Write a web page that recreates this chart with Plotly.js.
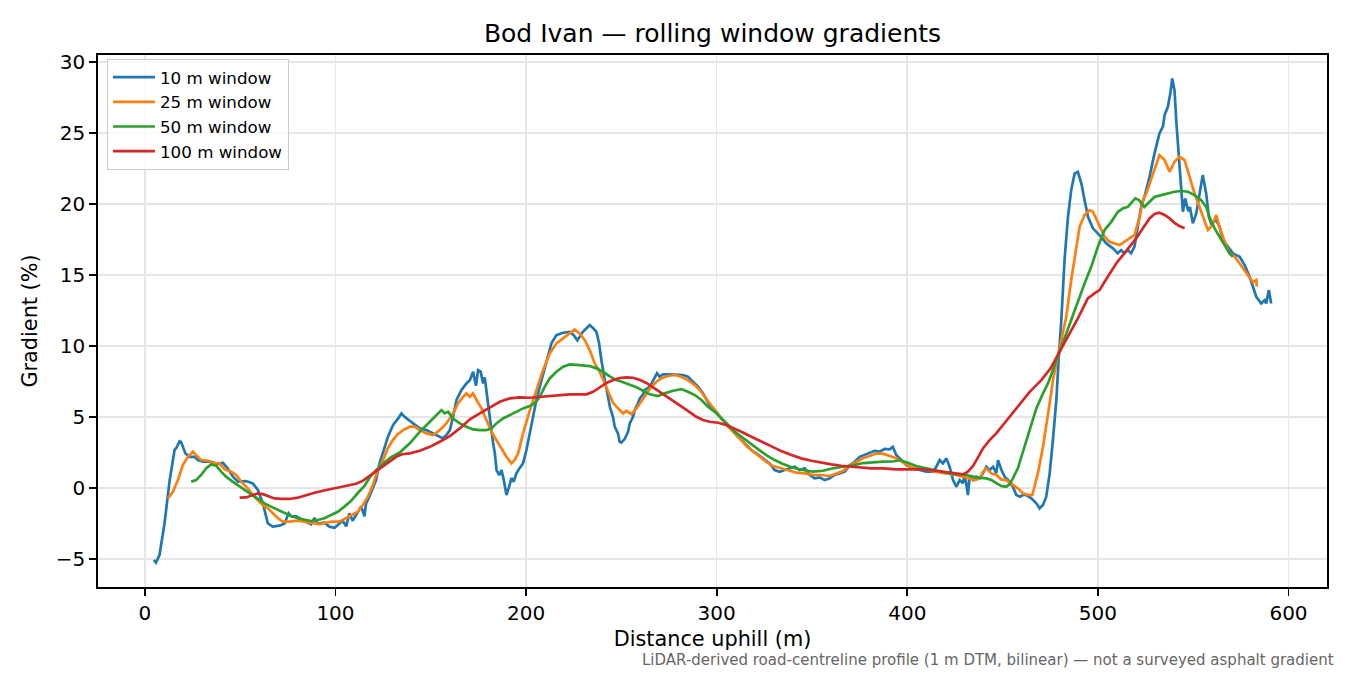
<!DOCTYPE html>
<html>
<head>
<meta charset="utf-8">
<script src="https://cdn.plot.ly/plotly-3.0.1.min.js"></script>
<style>html,body{margin:0;padding:0;background:#fff;}#chart{width:1350px;height:675px;}</style>
</head>
<body>
<div id="chart"></div>
<script>
// ---- data ----
const seriesNames = ["10 m window", "25 m window", "50 m window", "100 m window"];

const w10x = [4.7,5.8,7.7,10.3,13.0,15.6,16.4,18.2,19.0,21.2,23.4,26.0,27.8,30.4,34.8,38.3,40.9,43.5,46.2,48.8,53.1,56.6,59.3,61.9,64.5,67.1,70.6,73.3,75.4,76.8,79.4,82.0,84.6,87.2,89.0,90.6,94.2,96.8,99.5,101.2,103.8,105.6,107.3,109.0,111.7,113.5,115.2,116.0,117.8,119.6,121.3,123.1,124.1,125.7,126.8,127.5,129.4,130.5,132.9,134.6,136.4,139.0,141.6,144.2,147.7,151.2,153.8,156.4,158.2,160.0,161.7,163.5,166.1,168.7,170.5,172.2,173.7,174.8,176.2,177.4,178.3,179.1,180.0,180.9,181.8,182.7,183.6,184.5,185.9,187.1,188.3,189.7,191.1,192.3,193.5,194.9,196.6,198.4,200.2,202.8,205.4,208.1,210.7,213.3,215.9,219.4,222.9,225.0,226.9,228.1,229.8,231.7,233.4,235.2,236.9,238.3,239.5,241.3,243.0,244.0,245.6,246.5,248.2,249.1,250.0,251.7,253.5,254.4,256.1,257.0,258.7,259.6,261.4,262.2,264.9,266.6,268.7,270.1,271.8,275.3,278.8,282.3,284.9,287.6,290.2,292.8,294.6,297.2,299.8,302.4,305.1,307.7,310.3,312.9,315.6,318.2,320.8,324.3,327.8,330.4,333.0,335.7,338.3,340.9,343.5,346.2,348.8,351.4,354.0,356.7,359.3,361.9,364.5,367.2,369.8,372.4,375.0,377.6,380.2,382.9,385.5,388.1,390.7,392.4,394.2,396.8,399.5,403.0,406.5,410.0,413.4,415.2,417.0,418.7,420.5,422.2,424.0,425.7,427.5,429.2,430.1,431.8,432.7,434.5,436.2,438.0,439.7,441.5,443.2,445.0,446.7,447.6,449.4,451.1,452.9,455.4,457.2,459.0,460.7,462.4,465.1,467.7,469.4,471.2,472.9,474.7,476.4,478.2,479.6,480.8,482.5,484.3,486.0,487.8,489.5,491.3,493.0,494.8,497.4,500.0,501.7,504.4,507.9,510.4,512.2,513.9,515.7,517.4,519.2,520.9,522.7,524.4,527.1,529.7,532.3,534.1,535.0,536.7,538.0,539.0,540.2,541.1,542.3,543.4,544.6,545.8,547.4,548.3,549.8,551.6,553.3,555.0,556.8,558.2,559.4,562.1,563.8,565.6,568.2,570.8,574.4,577.0,579.6,581.3,583.1,585.7,587.4,588.3,589.7,590.9];
const w10y = [-5.07,-5.26,-4.7,-2.5,0.56,2.7,2.8,3.3,3.25,2.45,2.2,2.2,1.97,1.85,1.85,1.69,1.78,1.38,0.8,0.45,0.49,0.33,-0.14,-1.08,-2.49,-2.72,-2.65,-2.49,-1.78,-2.0,-2.0,-2.2,-2.37,-2.54,-2.1,-2.5,-2.44,-2.72,-2.8,-2.6,-2.3,-2.7,-1.78,-2.3,-1.67,-1.3,-2.0,-1.1,-0.6,0.0,0.56,1.74,2.2,2.9,3.38,3.6,4.2,4.5,4.9,5.26,5.0,4.74,4.44,4.2,4.08,3.85,3.62,3.5,3.73,4.08,5.02,6.2,6.9,7.37,7.6,8.19,7.2,8.3,8.2,7.37,7.8,6.9,6.2,5.26,4.08,3.15,2.45,1.27,0.9,1.27,0.56,-0.49,0.1,0.7,0.45,1.03,1.4,1.74,2.68,4.55,6.2,7.6,9.0,10.2,10.77,10.94,11.0,10.77,10.4,10.65,11.0,11.25,11.48,11.25,11.0,10.2,9.0,7.6,6.2,5.7,5.0,4.32,3.85,3.26,3.2,3.45,3.96,4.55,5.02,5.49,5.96,6.3,6.6,6.9,7.14,7.6,8.08,7.84,8.0,8.0,8.0,7.96,7.84,7.49,7.14,6.67,6.2,5.61,5.37,4.9,4.55,4.2,3.73,3.38,3.03,2.68,2.44,2.09,1.74,1.27,1.15,1.27,1.39,1.5,1.27,1.39,0.92,0.68,0.75,0.56,0.68,0.92,1.03,1.15,1.6,1.85,2.2,2.33,2.5,2.62,2.56,2.75,2.72,2.9,2.33,1.97,1.62,1.39,1.27,1.15,1.15,1.5,1.97,1.74,2.09,1.5,0.56,0.09,0.56,0.33,1.03,-0.49,0.8,0.56,0.8,0.68,1.03,1.5,1.27,1.5,1.03,1.97,1.27,0.8,0.56,0.09,-0.49,-0.61,-0.49,-0.49,-0.73,-1.08,-1.43,-1.2,-0.61,1.03,3.38,6.2,9.5,11.8,16.06,19.1,20.99,22.16,22.27,21.46,20.28,19.1,18.29,17.94,17.69,17.23,16.88,16.53,16.76,16.53,16.76,16.53,17.0,18.4,19.8,20.5,21.92,23.57,24.98,25.45,26.27,26.85,27.8,28.85,28.0,25.9,23.8,21.9,19.46,20.4,19.5,19.8,18.64,19.34,20.75,22.04,20.75,19.1,18.64,18.87,18.4,17.46,17.0,16.53,16.29,15.7,14.88,14.18,13.47,13.0,13.23,13.0,13.94,13.0];

const w25x = [12.1,14.7,17.3,19.9,22.6,25.2,26.9,29.5,33.0,36.5,39.1,41.8,45.3,47.9,50.5,54.0,56.6,59.3,61.9,64.5,67.1,69.8,72.4,75.9,80.3,83.7,88.1,91.6,95.1,98.6,102.1,105.6,109.1,111.7,114.3,117.0,119.6,122.2,124.8,127.4,130.1,132.3,135.5,139.0,141.6,144.2,147.7,151.2,154.7,158.2,161.7,164.3,167.0,168.7,170.5,172.2,174.0,176.6,179.2,181.8,184.4,187.1,189.7,192.3,194.0,195.8,198.4,202.0,205.4,208.9,212.4,215.9,219.4,222.9,225.5,228.1,230.8,233.4,236.0,238.6,242.2,245.6,249.1,250.9,252.6,255.2,257.9,260.5,263.1,265.7,268.4,271.0,274.5,278.0,281.5,284.9,288.5,291.1,293.7,296.3,299.0,301.6,304.2,306.8,309.5,312.1,315.6,319.0,322.6,326.1,329.5,333.9,338.3,341.8,346.2,350.5,354.9,359.3,362.8,366.2,369.8,373.3,376.7,380.2,383.7,387.2,390.7,394.2,398.6,402.1,406.5,410.8,414.3,417.8,421.3,425.7,429.2,432.7,435.3,438.0,439.7,441.5,444.1,446.7,449.3,451.9,455.4,458.0,460.7,463.3,465.6,466.8,468.5,471.2,473.8,475.5,476.4,479.8,483.4,486.0,488.6,490.4,493.0,495.6,497.4,499.1,500.9,503.5,506.1,508.7,511.4,514.0,516.6,519.2,521.9,523.6,525.4,528.0,530.6,532.3,535.0,537.6,540.2,542.8,545.5,548.1,550.7,553.3,556.0,557.7,560.0,562.1,563.8,566.5,569.1,571.7,574.4,577.0,579.6,581.3,583.1,583.4];
const w25y = [-0.73,-0.26,0.56,1.62,2.2,2.56,2.32,1.97,1.92,1.74,1.74,1.31,1.15,0.92,0.45,-0.02,-0.49,-0.84,-1.2,-1.43,-1.78,-2.13,-2.37,-2.37,-2.3,-2.37,-2.44,-2.54,-2.44,-2.37,-2.37,-2.13,-1.9,-1.67,-1.2,-0.61,0.21,1.27,1.9,2.79,3.38,3.75,4.08,4.32,4.32,4.08,3.85,3.73,4.08,4.55,5.26,5.96,6.43,6.67,6.43,6.67,6.2,5.61,4.79,3.96,3.38,2.79,2.2,1.74,1.97,2.44,3.85,5.49,6.9,8.3,9.48,10.19,10.54,10.89,11.17,10.89,10.42,9.72,8.78,8.2,7.0,6.0,5.49,5.26,5.45,5.2,5.6,6.1,6.6,7.14,7.49,7.73,7.89,7.96,7.84,7.6,7.25,6.9,6.43,5.96,5.49,5.07,4.6,4.2,3.85,3.5,2.96,2.56,2.2,1.85,1.55,1.39,1.22,1.08,1.03,0.92,0.92,0.85,1.03,1.2,1.58,1.85,2.1,2.25,2.43,2.42,2.28,2.1,1.74,1.46,1.39,1.31,1.15,1.08,1.03,0.92,0.8,0.68,0.56,0.68,1.15,1.39,1.03,0.92,0.61,0.56,0.21,-0.02,-0.37,-0.49,-0.49,0.09,1.03,2.9,5.02,6.67,7.6,9.8,12.06,14.65,17.0,18.4,19.23,19.58,19.46,18.99,18.4,17.7,17.35,17.23,17.11,17.35,17.58,17.82,19.1,20.28,20.75,21.8,22.87,23.45,23.1,22.27,22.98,23.33,23.1,21.92,20.75,19.8,18.87,18.17,18.5,19.23,18.4,17.35,16.53,16.3,15.82,15.35,14.88,14.5,14.65,14.18];

const w50x = [24.3,26.9,29.5,32.2,34.8,37.4,40.0,42.6,45.3,48.7,52.3,55.8,59.3,62.8,66.2,69.8,73.3,76.7,80.2,83.8,87.2,90.7,94.2,97.7,101.2,104.7,108.2,111.7,115.2,118.4,122.7,128.8,133.7,139.0,144.2,149.5,153.0,155.6,157.3,159.1,161.7,165.2,168.7,172.2,175.7,179.2,181.8,184.4,187.9,191.4,194.9,198.4,201.9,204.5,207.2,209.8,212.4,215.9,219.4,222.9,228.1,233.4,236.9,240.4,243.9,247.4,250.9,254.4,257.9,261.4,264.9,269.2,272.7,277.1,281.5,284.9,288.5,292.0,295.4,299.0,302.4,305.9,309.5,313.0,316.4,320.0,323.4,326.9,330.4,334.8,340.0,345.3,350.5,355.8,361.0,366.2,371.5,376.7,382.0,387.2,392.4,396.0,400.3,404.7,410.0,415.2,420.5,425.7,431.0,436.2,441.5,444.1,446.7,449.3,451.9,453.7,455.4,458.0,460.7,464.2,467.7,471.2,473.8,478.0,482.0,486.0,489.5,493.0,496.5,500.0,503.5,507.0,510.5,513.2,515.7,517.4,519.6,521.4,524.4,527.1,529.7,533.2,536.7,540.2,543.7,547.2,550.7,554.2,556.8,558.5,561.2,563.8,566.5,569.1,570.8];
const w50y = [0.45,0.56,0.92,1.39,1.67,1.57,1.15,0.8,0.52,0.21,-0.14,-0.49,-0.8,-1.08,-1.31,-1.55,-1.78,-1.97,-2.13,-2.25,-2.32,-2.25,-2.13,-1.9,-1.67,-1.31,-0.9,-0.35,0.15,0.85,1.45,2.15,2.5,3.15,3.96,4.67,5.14,5.49,5.26,5.37,4.9,4.55,4.32,4.13,4.08,4.08,4.2,4.55,4.9,5.14,5.37,5.61,5.77,5.96,6.43,7.14,7.72,8.19,8.54,8.71,8.66,8.59,8.43,8.19,7.87,7.6,7.45,7.3,7.1,6.85,6.6,6.48,6.67,6.85,6.97,6.78,6.55,6.2,5.73,5.37,4.9,4.44,3.96,3.61,3.26,2.9,2.56,2.25,1.97,1.69,1.43,1.27,1.15,1.22,1.39,1.5,1.6,1.76,1.83,1.86,1.87,1.97,1.78,1.55,1.39,1.22,1.08,0.96,0.92,0.75,0.68,0.56,0.33,0.14,0.09,0.28,0.68,1.39,2.56,4.08,5.61,6.67,7.37,8.9,10.4,11.83,13.24,14.41,15.58,17.0,18.17,18.75,19.46,19.7,19.8,20.05,20.4,20.3,19.8,20.16,20.5,20.63,20.75,20.87,20.92,20.87,20.63,20.28,19.8,19.1,18.29,17.7,17.11,16.53,16.29];

const w100x = [49.7,53.2,56.6,59.2,61.9,64.5,68.0,71.5,75.9,80.2,84.6,89.0,93.4,97.7,102.1,106.5,110.8,114.3,117.8,121.3,124.8,128.3,131.8,135.0,139.0,144.2,149.5,154.7,160.0,165.2,170.5,175.7,180.9,186.2,191.4,196.7,201.9,207.2,212.4,217.7,222.9,228.1,231.7,235.1,238.6,242.2,245.6,249.1,252.6,256.1,259.6,263.1,267.0,270.1,275.3,280.6,284.9,289.3,292.8,296.3,300.7,305.1,308.5,312.9,318.2,323.4,328.7,333.9,339.2,344.4,349.7,354.9,360.1,365.4,370.6,375.9,381.1,387.2,394.2,401.2,408.2,415.2,420.5,425.7,429.2,431.8,434.5,437.1,439.7,443.2,446.7,450.2,453.7,457.2,460.7,464.2,467.7,470.3,475.0,480.0,485.0,489.5,492.1,494.7,498.2,500.9,503.5,506.1,509.6,513.1,516.6,520.1,523.6,527.1,529.7,532.3,535.0,537.6,540.2,542.8,545.5];
const w100y = [-0.68,-0.66,-0.49,-0.38,-0.43,-0.56,-0.73,-0.77,-0.77,-0.68,-0.49,-0.33,-0.19,-0.07,0.05,0.14,0.3,0.5,0.85,1.15,1.5,1.85,2.2,2.38,2.44,2.63,2.9,3.26,3.66,4.2,4.84,5.26,5.68,6.08,6.31,6.39,6.36,6.43,6.5,6.55,6.6,6.6,6.6,6.78,7.08,7.4,7.6,7.75,7.8,7.77,7.62,7.4,7.05,6.78,6.31,5.84,5.44,5.02,4.79,4.67,4.6,4.44,4.25,3.96,3.61,3.26,2.9,2.6,2.32,2.09,1.92,1.78,1.67,1.57,1.5,1.46,1.39,1.39,1.31,1.31,1.31,1.22,1.13,1.03,0.96,1.15,1.55,2.16,2.79,3.38,3.85,4.44,5.02,5.61,6.2,6.78,7.25,7.6,8.4,9.6,10.8,11.95,12.65,13.36,13.71,13.94,14.53,15.12,15.82,16.41,17.0,17.58,18.29,18.99,19.3,19.39,19.23,18.99,18.68,18.45,18.29];

const xTicks = [0, 100, 200, 300, 400, 500, 600];
const yTicks = [-5, 0, 5, 10, 15, 20, 25, 30];
const colors = ["#1f77b4", "#ff7f0e", "#2ca02c", "#d62728"];

const titleText = "Bod Ivan — rolling window gradients";
const xTitle = "Distance uphill (m)";
const yTitle = "Gradient (%)";
const footnote = "LiDAR-derived road-centreline profile (1 m DTM, bilinear) — not a surveyed asphalt gradient";

// ---- chart ----
const xs = [w10x, w25x, w50x, w100x];
const ys = [w10y, w25y, w50y, w100y];
const traces = xs.map((x, i) => ({
  type: "scatter", mode: "lines", x: x, y: ys[i], name: seriesNames[i],
  line: {color: colors[i], width: 2.7}
}));

const FONT = "DejaVu Sans, Verdana, sans-serif";
const axisCommon = {
  showline: true, linecolor: "#000", linewidth: 1.7, mirror: true,
  ticks: "outside", ticklen: 7, tickwidth: 1.7, tickcolor: "#000",
  showgrid: true, gridcolor: "#e6e6e6", gridwidth: 1.6,
  zeroline: false, tickfont: {family: FONT, size: 20, color: "#000"},
  automargin: false
};

const layout = {
  width: 1350, height: 675,
  margin: {l: 98, r: 23, t: 55, b: 88},
  paper_bgcolor: "#fff", plot_bgcolor: "#fff",
  font: {family: FONT, color: "#000"},
  showlegend: true,
  title: {text: titleText, font: {family: FONT, size: 25, color: "#000"},
          x: 0.5, xref: "paper", xanchor: "center", y: 1 - 33/675, yref: "container", yanchor: "middle"},
  xaxis: Object.assign({}, axisCommon, {
    range: [-24.6, 620.2], tickmode: "array", tickvals: xTicks, ticktext: xTicks.map(String),
    title: {text: xTitle, font: {family: FONT, size: 20.8, color: "#000"}, standoff: 8}
  }),
  yaxis: Object.assign({}, axisCommon, {
    range: [-6.97, 30.5], tickmode: "array", tickvals: yTicks,
    ticktext: yTicks.map(v => v < 0 ? "\u2212" + Math.abs(v) : String(v)),
    title: {text: yTitle, font: {family: FONT, size: 20.8, color: "#000"}, standoff: 12}
  }),
  legend: {
    x: 0.0073, y: 0.993, xanchor: "left", yanchor: "top",
    bgcolor: "rgba(255,255,255,0.8)", bordercolor: "#cccccc", borderwidth: 1,
    itemwidth: 42,
    font: {family: FONT, size: 16.7, color: "#000"}
  },
  annotations: [{
    text: footnote, xref: "paper", yref: "paper",
    x: (1336 - 98) / 1229, y: (587 - 660) / 532, xanchor: "right", yanchor: "middle",
    showarrow: false, font: {family: FONT, size: 15, color: "#666666"}
  }]
};

Plotly.newPlot("chart", traces, layout, {displayModeBar: false, staticPlot: true});
</script>
</body>
</html>
